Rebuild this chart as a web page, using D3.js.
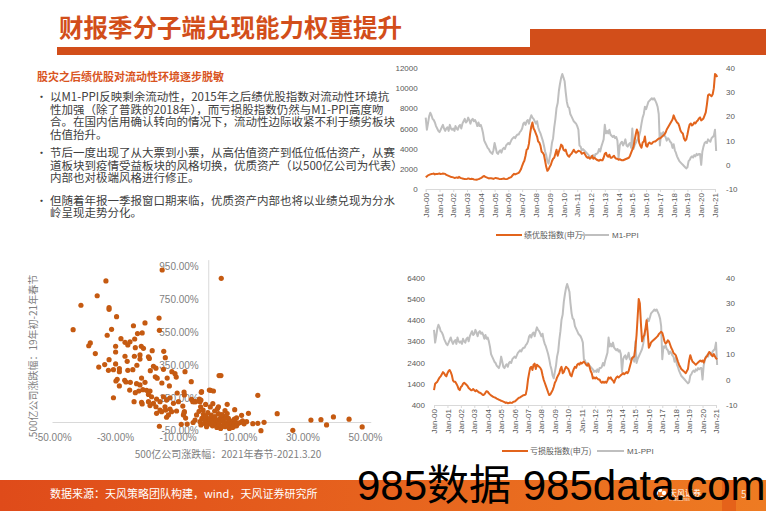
<!DOCTYPE html>
<html>
<head>
<meta charset="utf-8">
<script src="https://cdn.jsdelivr.net/npm/d3@7"></script>
<style>
body { margin: 0; background: #fff; }
svg { display: block; font-family: "Noto Sans CJK SC", "Noto Sans", sans-serif; }
</style>
</head>
<body>
<div id="main"></div>
<script>
// ---- data ----
var yearTicks = [2000,2001,2002,2003,2004,2005,2006,2007,2008,2009,2010,2011,2012,2013,2014,2015,2016,2017,2018,2019,2020,2021];

// M1-PPI, monthly from Jan-00
var m1ppi = [
  19.5,14.5,17,20,21.5,20.5,19,18.5,17.5,16,15,14,
  13.5,14.5,15.5,16.5,15,14,15,15.5,14,16.5,15,14.5,
  15,14,16,15,14.5,16,16.5,15,17,18,19,17.5,
  18,19.5,18.5,17,18.5,19,18,18.5,17.5,16,17.5,16,
  16.5,15,13,10,9,8,7,6.5,5.5,5,4.5,6,
  9,7,5,4.5,5.5,6,5,6.5,7,6.5,8,8.5,
  9,8.5,9.5,10.5,11,11.5,11,12,12.5,12.5,13.5,14,
  15,17,17.5,16.5,18,18.5,17,19,20.5,19.5,19,18,
  17,18,15.5,14,13,11.5,10,8,5.5,4,1.5,0.5,
  3,5.5,9,11,15.5,19,23.5,25.5,30.5,33.5,36,37.5,
  36,34.5,30,26,24,23.5,21,20,19,18,17.5,17,
  16,14.5,8,7.5,6,6.5,6,5.5,5,4.5,4,3,
  3.5,3,4,3,4.5,4.5,5,6.5,5.5,7.5,9,10.5,
  16.5,13,14,13,14.5,12.5,12,11.5,12,11,11.5,10,
  3,8,9,9.5,8,9,10.5,8,7.5,8.5,9,7,
  15,6.5,8,9,10,11,12,14,17,19.5,21,24,
  23,24.5,26,26.5,27,27.5,27,27.5,26.5,25.5,24,21,
  8,13,12.5,13.5,12,11.5,10,11,10.5,9.5,9,7,
  8.5,6,5,3.5,2.5,1.5,1,0.5,0,-0.5,-1,-1.5,
  -1,1.5,2,3,3.5,3,4,3.5,4.5,4,4.5,4.5,
  0,5.5,7.5,9,9.5,9,10.5,10,9.5,11,11.5,12,
  14.5,5.7
];

// 绩优股指数(申万), monthly from Jan-00
var goodIdx = [
  1180,1250,1350,1400,1450,1480,1500,1530,1450,1500,1480,1520,
  1540,1480,1500,1530,1520,1500,1400,1350,1300,1250,1200,1180,
  1150,1100,1120,1150,1100,1200,1120,1080,1050,1020,1000,980,
  1000,1050,1020,980,1020,1000,950,930,920,950,980,1020,
  1080,1150,1250,1300,1200,1150,1100,1050,1080,1060,1040,1000,
  1050,1100,1060,1050,1000,980,1000,1020,1050,1000,980,1000,
  1050,1120,1150,1250,1400,1500,1450,1500,1550,1600,1750,1950,
  2300,2600,2800,3300,3900,4000,4500,5500,6200,6600,6000,5800,
  5500,5200,4700,4600,4300,3700,3600,3400,2800,2200,1800,1950,
  2200,2400,2750,3000,3100,3500,3900,3300,3700,4000,4400,4300,
  3900,3800,3900,3500,3300,3200,3400,3500,3700,3900,3700,3600,
  3700,3800,3750,3700,3500,3550,3600,3400,3200,3100,3150,3000,
  3100,3300,3000,3100,3000,2900,2850,2800,2900,2850,2850,3100,
  3500,3600,3300,3200,3400,3100,3100,3200,3300,3100,3000,3000,
  2900,2950,2900,2850,2850,2900,2950,3000,3050,3100,3300,3600,
  3900,4200,4800,5400,5900,5600,4600,4300,4100,4600,4700,5200,
  4300,4200,4500,4600,4500,4500,4650,4700,4700,4800,4900,5000,
  5000,5100,5200,5300,5400,5600,5900,6100,6300,6500,6700,6900,
  7300,7000,6800,6600,6500,6200,5800,5600,5500,5000,4800,4900,
  5400,6000,6400,6500,6300,6400,6600,6500,6700,6800,7000,7100,
  6800,6900,7000,7300,7600,8400,9300,9400,9300,9200,9400,10000,
  11400,11300,11100
];

// 亏损股指数(申万), monthly from Jan-00
var lossIdx = [
  1100,1400,1450,1500,1600,1700,1750,1850,1950,1900,1800,1750,
  1900,2000,2050,1950,1800,1550,1500,1500,1400,1300,1150,1100,
  1250,1300,1400,1450,1400,1350,1300,1200,1150,1100,1100,1150,
  1100,1050,1100,1050,1000,980,950,900,870,900,980,1050,
  1030,950,900,850,820,780,760,740,700,680,650,630,
  600,580,560,530,500,520,480,490,520,500,510,550,
  560,600,650,700,740,760,800,830,860,870,900,1150,
  1600,1900,2150,2200,2050,2300,2350,2100,2300,2250,2200,2150,
  2050,1800,1600,1450,1300,1150,1000,870,900,1000,1100,1250,
  1450,1550,1700,1800,1900,2100,2200,1900,1950,2100,2200,2150,
  2100,1950,1800,1750,1950,2100,2200,2150,2300,2350,2300,2400,
  2350,2400,2450,2380,2300,2250,2350,2200,2000,1900,1650,1700,
  1650,1700,1650,1600,1600,1500,1450,1500,1450,1500,1450,1550,
  1700,1650,1700,1600,1550,1450,1600,1700,1750,1700,1750,1800,
  1850,1900,1850,1900,1950,1900,2000,2200,2400,2600,2650,2700,
  3100,3700,4500,5400,5200,4200,3400,3600,3700,4000,4400,3800,
  3100,3200,3350,3400,3450,3500,3550,3600,3650,3750,3800,3850,
  3800,3600,3400,3300,3350,3450,3400,3250,3100,3000,2850,2800,
  2750,2600,2450,2300,2200,2100,2050,2000,1950,1900,2000,2100,
  2500,2750,2600,2450,2400,2350,2300,2350,2400,2450,2500,2450,
  2500,2400,2550,2650,2700,2800,2900,2850,2750,2700,2800,2700,
  2600,2550
];

var goodTicks = [0,2000,4000,6000,8000,10000,12000];
var lossTicks = [400,1400,2400,3400,4400,5400,6400];
var m1Ticks = [-10,0,10,20,30,40];

// 500亿公司: [2021年春节-2021.3.20 涨跌幅 %, 19年初-21年春节 涨跌幅 %]
var scatterPts = [
  [-14.9,930],[-32.9,863],[-35.7,773],[-40.9,715],[-31.9,701],[-31.9,690],[-29.5,645],[-15.9,637],
  [-43.4,566],[-24.1,590],[-20.4,607],[-31.1,568],[-32.5,532],[-22.8,542],[-21.3,546],[-15.8,562],
  [-28.1,511],[-23.7,509],[-26.8,489],[-25.2,492],[-37.9,485],[-38.4,468],[-29.8,465],[-29.8,430],
  [-21.6,465],[-20.9,452],[-25.9,473],[-23.5,456],[-14.4,434],[-36.3,420],[-18.1,438],[-26.8,404],
  [-23.8,404],[-22,412],[-22,387],[-19.3,401],[-19,391],[-13.9,395],[-31.9,383],[-26.1,373],
  [-33.3,353],[-29.8,357],[-23,349],[-35.2,338],[-17.7,343],[-16.9,331],[-14.5,324],[-32.1,318],
  [-30.5,322],[-28.6,328],[-28.6,310],[-25.9,318],[-24.3,322],[-18.7,316],[-11.8,310],[-10.8,298],
  [-7.6,310],[-17.1,279],[-16.5,270],[-13.3,271],[-10.4,277],[-21.5,271],[-29.7,253],[-29.3,263],
  [-26.9,257],[-26.5,247],[-25.1,245],[-23.1,237],[-22,229],[-20.4,245],[-28.6,223],[-15,241],
  [-12.6,223],[-5.6,249],[-25.3,198],[-23.5,182],[-22.4,192],[-21.1,200],[-19.9,196],[-18.8,192],
  [-30.5,151],[-10.1,180],[-7.9,186],[-7.8,168],[-12.4,151],[-23.9,127],[-21.5,123],[-21.3,113],
  [-15.6,76],[-13.8,76],[-12.4,82],[-10.3,70],[-7.8,66],[-8.1,46],[-13.5,32],[-7.4,27],
  [-15.8,-23],[-8.8,-11],[-5.5,141],[-4.6,127],[-3,143],[-2.8,127],[-2.3,188],[0.2,198],
  [-19.3,171],[-18.3,157],[-19.3,127],[-17.7,117],[-18.8,103],[-16.7,143],[-15.6,127],[-14.5,157],
  [-13.5,137],[-16.9,96],[-15.1,66],[-16.7,56],[-14,96],[-11.3,117],[-9.7,127],[-11.9,66],
  [-12.9,46],[-8.3,100],[-7.9,59],[-6.9,-9],[-5,0],[-4.4,15],[-3.9,46],[-3.1,68],
  [-2.6,96],[-1.8,76],[-2.5,137],[-4.2,127],[-5.1,127],[-2.4,184],
  [-2.8,5],[-2.5,-15],[-2.2,25],[-1.7,50],[-1.5,-5],[-1.2,15],[-0.9,36],[-0.7,-26],
  [-0.5,5],[-0.2,-10],[0.1,20],[0.4,25],[0.6,-5],[0.8,45],[1,10],[1.2,-20],
  [1.5,0],[1.7,30],[2,36],[2.2,-15],[2.4,15],[2.6,-30],[2.9,5],[3.1,55],
  [3.3,-10],[3.6,25],[3.8,-36],[4,10],[4.3,-20],[4.5,40],[4.7,15],[5,-5],
  [5.2,-26],[5.5,30],[5.8,0],[6.1,-15],[6.3,25],[6.6,-36],[6.9,10],[7.2,-20],
  [7.3,-5],[7.6,-30],[7.9,-26],[8.2,-10],[8.5,5],[8.9,-20],[9.5,-5],[10,0],
  [10.8,10],[11.3,-8],[-0.3,60],[1.9,70],[2.8,85],[4.2,48],[5.9,55],[0.5,95],[-1,110],
  [4.0,879],[3.3,286],[3.9,286],[0.6,196],[1.5,192],[15.7,166],[1.3,115],[3.1,96],
  [5.9,111],[8.3,78],[5.2,72],[12.7,56],[21.9,54],[10.5,44],[8.9,29],[8.2,21],
  [12.1,5],[14.1,-7],[15.7,-5],[17.7,1],[16.7,-50],[26.9,-48],[32.7,15],[35.9,17],
  [37.7,-15],[39.9,34],[44.9,20],[49.1,-27]
];
var scatterXTicks = [-50,-30,-10,10,30,50];
var scatterYTicks = [-50,150,350,550,750,950];

var bullets = [
  ["以M1-PPI反映剩余流动性，2015年之后绩优股指数对流动性环境抗",
   "性加强（除了普跌的2018年），而亏损股指数仍然与M1-PPI高度吻",
   "合。在国内信用确认转向的情况下，流动性边际收紧不利于绩劣板块",
   "估值抬升。"],
  ["节后一度出现了从大票到小票，从高估值资产到低位低估资产，从赛",
   "道板块到疫情受益板块的风格切换，优质资产（以500亿公司为代表）",
   "内部也对极端风格进行修正。"],
  ["但随着年报一季报窗口期来临，优质资产内部也将以业绩兑现为分水",
   "岭呈现走势分化。"]
];

// ---- page ----
var ORANGE = "#D24E1A";
var svg = d3.select("#main").append("svg")
  .attr("width", 766)
  .attr("height", 511);

// header
svg.append("rect").attr("x", 57).attr("y", 47).attr("width", 473).attr("height", 8).attr("fill", ORANGE);
svg.append("rect").attr("x", 530).attr("y", 29).attr("width", 236).attr("height", 26).attr("fill", ORANGE);
svg.append("text")
  .attr("x", 59).attr("y", 37)
  .attr("fill", ORANGE)
  .style("font-size", "24.5px").style("font-weight", "bold")
  .text("财报季分子端兑现能力权重提升");

// text block
svg.append("text")
  .attr("x", 37).attr("y", 81)
  .attr("fill", "#D9541E")
  .style("font-size", "11px").style("font-weight", "bold")
  .text("股灾之后绩优股对流动性环境逐步脱敏");

var lineY = [[101, 113.5, 126, 138.5], [157, 169.5, 182], [204.5, 217]];
bullets.forEach(function(lines, b) {
  svg.append("text")
    .attr("x", 36).attr("y", lineY[b][0])
    .attr("fill", "#404040").style("font-size", "11px")
    .text("•");
  lines.forEach(function(t, i) {
    svg.append("text")
      .attr("x", 50).attr("y", lineY[b][i])
      .attr("fill", "#404040").style("font-size", "11.5px")
      .text(t);
  });
});

// ---- line charts ----
function monthDate(i) { return d3.timeMonth.offset(new Date(2000, 0, 1), i); }

function lineChart(o) {
  var x = d3.scaleTime().domain([new Date(2000, 0, 1), new Date(2021, 0, 1)]).range([o.x0, o.x1]);
  var yl = d3.scaleLinear().domain(o.leftDomain).range([o.yb, o.yt]);
  var yr = d3.scaleLinear().domain([-10, 40]).range([o.yb, o.yt]);
  var g = svg.append("g");

  var xa = g.append("g")
    .attr("transform", "translate(0," + o.yb + ")")
    .call(d3.axisBottom(x)
      .tickValues(yearTicks.map(function(y) { return new Date(y, 0, 1); }))
      .tickFormat(d3.timeFormat("Jan-%y"))
      .tickSize(3));
  xa.select(".domain").attr("stroke", "#D9D9D9");
  xa.selectAll(".tick line").attr("stroke", "#D9D9D9");
  xa.selectAll("text")
    .attr("transform", "rotate(-90)")
    .attr("text-anchor", "end")
    .attr("x", -4).attr("y", 0).attr("dy", "0.32em")
    .attr("fill", "#595959")
    .style("font-size", "8px").style("font-family", "Liberation Sans, sans-serif");

  var la = g.append("g")
    .attr("transform", "translate(" + o.x0 + ",0)")
    .call(d3.axisLeft(yl).tickValues(o.leftTicks).tickFormat(d3.format("d")).tickSize(0).tickPadding(o.padL));
  la.select(".domain").remove();
  la.selectAll("text").attr("fill", "#595959")
    .style("font-size", "8px").style("font-family", "Liberation Sans, sans-serif");

  var ra = g.append("g")
    .attr("transform", "translate(" + o.x1 + ",0)")
    .call(d3.axisRight(yr).tickValues(m1Ticks).tickFormat(function(v) { return String(v); }).tickSize(0).tickPadding(o.padR));
  ra.select(".domain").remove();
  ra.selectAll("text").attr("fill", "#595959")
    .style("font-size", "8px").style("font-family", "Liberation Sans, sans-serif");

  g.append("path")
    .datum(m1ppi)
    .attr("fill", "none").attr("stroke", "#BFBFBF").attr("stroke-width", 2)
    .attr("stroke-linejoin", "round")
    .attr("d", d3.line().x(function(d, i) { return x(monthDate(i)); }).y(function(d) { return yr(d); }));

  g.append("path")
    .datum(o.series)
    .attr("fill", "none").attr("stroke", "#E2641C").attr("stroke-width", 2)
    .attr("stroke-linejoin", "round")
    .attr("d", d3.line().x(function(d, i) { return x(monthDate(i)); }).y(function(d) { return yl(d); }));

  // legend
  var lg = g.append("g").attr("transform", "translate(" + o.legX + "," + o.legY + ")");
  lg.append("line").attr("x1", 0).attr("x2", 26).attr("stroke", "#E2641C").attr("stroke-width", 2);
  lg.append("text").attr("x", 28).attr("dy", "0.35em").attr("fill", "#595959")
    .style("font-size", "8px").text(o.name);
  lg.append("line").attr("x1", o.legGap).attr("x2", o.legGap + 27).attr("stroke", "#BFBFBF").attr("stroke-width", 2);
  lg.append("text").attr("x", o.legGap + 30).attr("dy", "0.35em").attr("fill", "#595959")
    .style("font-size", "8px").style("font-family", "Liberation Sans, sans-serif").text("M1-PPI");
}

lineChart({
  x0: 425.7, x1: 715, yb: 189, yt: 68,
  leftDomain: [0, 12000], leftTicks: goodTicks, padL: 8, padR: 11,
  series: goodIdx, name: "绩优股指数(申万)",
  legX: 496, legY: 235, legGap: 86
});

lineChart({
  x0: 434, x1: 716, yb: 405, yt: 277.7,
  leftDomain: [400, 6400], leftTicks: lossTicks, padL: 9, padR: 10,
  series: lossIdx, name: "亏损股指数(申万)",
  legX: 502, legY: 451, legGap: 95
});

// ---- scatter ----
var sx = d3.scaleLinear().domain([-50, 50]).range([52.5, 365]);
var sy = d3.scaleLinear().domain([-50, 950]).range([430.7, 266.7]);

svg.append("clipPath").attr("id", "scClip")
  .append("rect").attr("x", 35.5).attr("y", 250).attr("width", 350).attr("height", 230);
var sg = svg.append("g").attr("clip-path", "url(#scClip)");

sg.append("line")
  .attr("x1", sx(0)).attr("x2", sx(0))
  .attr("y1", sy(990)).attr("y2", sy(0))
  .attr("stroke", "#D9D9D9");
sg.append("line")
  .attr("x1", sx(-50)).attr("x2", sx(52))
  .attr("y1", sy(0)).attr("y2", sy(0))
  .attr("stroke", "#D9D9D9");

var pctFmt = function(v) { return v.toFixed(2) + "%"; };

var sxa = sg.append("g")
  .attr("transform", "translate(0," + sy(-50) + ")")
  .call(d3.axisBottom(sx).tickValues(scatterXTicks).tickFormat(pctFmt).tickSize(0).tickPadding(3));
sxa.select(".domain").remove();
sxa.selectAll("text").attr("fill", "#7F7F7F")
  .style("font-size", "10px").style("font-family", "Liberation Sans, sans-serif");

var sya = sg.append("g")
  .attr("transform", "translate(" + sx(0) + ",0)")
  .call(d3.axisLeft(sy).tickValues(scatterYTicks).tickFormat(pctFmt).tickSize(0).tickPadding(10));
sya.select(".domain").remove();
sya.selectAll("text").attr("fill", "#7F7F7F")
  .style("font-size", "10px").style("font-family", "Liberation Sans, sans-serif");

sg.selectAll("circle.pt")
  .data(scatterPts)
  .enter().append("circle")
  .attr("class", "pt")
  .attr("cx", function(d) { return sx(d[0]); })
  .attr("cy", function(d) { return sy(d[1]); })
  .attr("r", 2.6)
  .attr("fill", "#C55A11");

svg.append("text")
  .attr("x", 228).attr("y", 457.5)
  .attr("text-anchor", "middle").attr("fill", "#7F7F7F")
  .style("font-size", "10px")
  .text("500亿公司涨跌幅：2021年春节-2021.3.20");
svg.append("text")
  .attr("transform", "translate(36.5,356) rotate(-90)")
  .attr("text-anchor", "middle").attr("fill", "#7F7F7F")
  .style("font-size", "10px")
  .text("500亿公司涨跌幅：19年初-21年春节");

// ---- footer ----
var grad = svg.append("defs").append("linearGradient").attr("id", "footGrad");
grad.append("stop").attr("offset", "0%").attr("stop-color", "#DF4B1A");
grad.append("stop").attr("offset", "100%").attr("stop-color", "#EE7B22");
svg.append("rect").attr("x", 0).attr("y", 480).attr("width", 766).attr("height", 31).attr("fill", "url(#footGrad)");
svg.append("rect").attr("x", 722).attr("y", 480).attr("width", 14).attr("height", 31).attr("fill", "#E5621A");
svg.append("text")
  .attr("x", 50).attr("y", 498)
  .attr("fill", "#fff").style("font-size", "11px")
  .text("数据来源：天风策略团队构建，wind，天风证券研究所");

var logo = svg.append("g").attr("transform", "translate(660,494)");
[[0,-4],[4,-1],[2,4],[-3,4],[-4,-1]].forEach(function(p) {
  logo.append("circle").attr("cx", p[0]).attr("cy", p[1]).attr("r", 2.2).attr("fill", "#fff");
});
logo.append("text").attr("x", 9).attr("y", 2).attr("fill", "#fff").style("font-size", "8px").text("天风证券");
logo.append("text").attr("x", 9).attr("y", 7).attr("fill", "#fff").style("font-size", "3px").text("TF SECURITIES");
svg.append("text").attr("x", 741).attr("y", 498).attr("fill", "#FBE3D2").style("font-size", "10px").text("5");

// watermark
svg.append("text")
  .attr("x", 357).attr("y", 500)
  .attr("fill", "#000")
  .style("font-size", "42px").style("font-family", "Liberation Sans, Noto Sans CJK SC, sans-serif")
  .text("985数据 985data.com");
</script>
</body>
</html>
